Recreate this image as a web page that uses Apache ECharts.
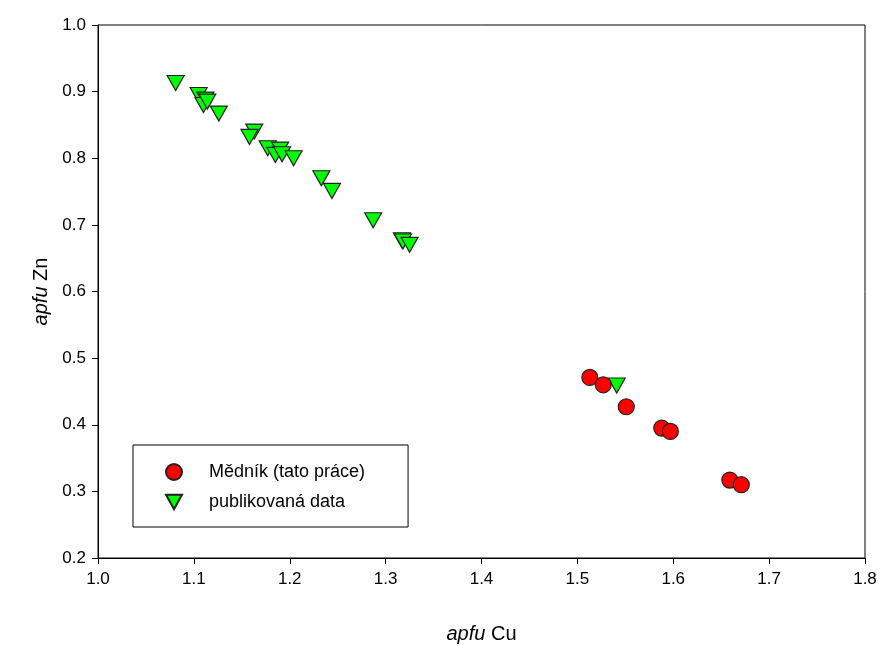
<!DOCTYPE html>
<html lang="cs">
<head>
    <meta charset="utf-8">
    <title>apfu Cu vs Zn</title>
    <script src="https://cdn.jsdelivr.net/npm/echarts@6/dist/echarts.min.js"></script>
    <style>
        html, body { margin: 0; padding: 0; background: #fff; }
        #chart { width: 882px; height: 646px; }
    </style>
</head>
<body>
    <div id="chart"></div>
    <script type="text/javascript">

    // Mědník (tato práce) - červené kruhy
    var mednikCu = [1.513, 1.527, 1.551, 1.588, 1.597, 1.659, 1.671];
    var mednikZn = [0.471, 0.460, 0.427, 0.395, 0.390, 0.317, 0.310];

    // publikovaná data - zelené trojúhelníky
    var publCu = [1.081, 1.105, 1.112, 1.110, 1.114, 1.126, 1.163, 1.158, 1.177, 1.190,
                  1.185, 1.192, 1.204, 1.233, 1.244, 1.287, 1.317, 1.318, 1.325, 1.541];
    var publZn = [0.913, 0.895, 0.888, 0.880, 0.885, 0.867, 0.840, 0.832, 0.815, 0.813,
                  0.805, 0.806, 0.800, 0.770, 0.751, 0.707, 0.677, 0.675, 0.670, 0.459];

    var xTicks = [1.0, 1.8, 0.1];   // min, max, interval
    var yTicks = [0.2, 1.0, 0.1];

    function zip(a, b) {
        return a.map(function (v, i) { return [v, b[i]]; });
    }

    var font = 'Liberation Sans, Arial, sans-serif';
    // trojúhelník špičkou dolů pro legendu
    var downTri = 'path://M0,0 L20,0 L10,18 Z';

    var chart = echarts.init(document.getElementById('chart'));
    chart.setOption({
        animation: false,
        grid: {
            left: 98, right: 17, top: 25, bottom: 88,
            outerBoundsMode: 'none',
            show: true, borderColor: '#000', borderWidth: 1
        },
        legend: {
            orient: 'vertical',
            left: 133, top: 445,
            padding: [18, 43, 16, 32],
            itemGap: 12,
            itemWidth: 16, itemHeight: 16,
            borderColor: '#000', borderWidth: 1,
            textStyle: { fontFamily: font, fontSize: 18, color: '#000', padding: [0, 0, 0, 22] },
            data: [
                { name: 'Mědník (tato práce)', icon: 'circle' },
                { name: 'publikovaná data', icon: downTri }
            ]
        },
        xAxis: {
            type: 'value',
            min: xTicks[0], max: xTicks[1], interval: xTicks[2],
            splitLine: { show: false },
            axisLine: { lineStyle: { color: '#000' } },
            axisTick: { length: 6, lineStyle: { color: '#000' } },
            axisLabel: {
                margin: 13, color: '#000', fontFamily: font, fontSize: 17,
                formatter: function (v) { return v.toFixed(1); }
            },
            name: '{i|apfu} Cu',
            nameLocation: 'middle',
            nameGap: 66,
            nameTextStyle: {
                fontFamily: font, fontSize: 20, color: '#000',
                rich: { i: { fontFamily: font, fontSize: 20, fontStyle: 'italic', color: '#000' } }
            }
        },
        yAxis: {
            type: 'value',
            min: yTicks[0], max: yTicks[1], interval: yTicks[2],
            splitLine: { show: false },
            axisLine: { lineStyle: { color: '#000' } },
            axisTick: { length: 6, lineStyle: { color: '#000' } },
            axisLabel: {
                margin: 12, color: '#000', fontFamily: font, fontSize: 17,
                formatter: function (v) { return v.toFixed(1); }
            },
            name: '{i|apfu} Zn',
            nameLocation: 'middle',
            nameGap: 47,
            nameTextStyle: {
                fontFamily: font, fontSize: 20, color: '#000',
                rich: { i: { fontFamily: font, fontSize: 20, fontStyle: 'italic', color: '#000' } }
            }
        },
        series: [{
            name: 'Mědník (tato práce)',
            type: 'scatter',
            symbol: 'circle',
            symbolSize: 16,
            z: 3,
            itemStyle: { color: '#ff0000', borderColor: '#222', borderWidth: 1.2, opacity: 1 },
            data: zip(mednikCu, mednikZn)
        }, {
            name: 'publikovaná data',
            type: 'scatter',
            symbol: 'triangle',
            symbolRotate: 180,
            symbolSize: [17, 15],
            z: 2,
            itemStyle: { color: '#00ff00', borderColor: '#222', borderWidth: 1.2, opacity: 1 },
            data: zip(publCu, publZn)
        }]
    });
    </script>
</body>
</html>
